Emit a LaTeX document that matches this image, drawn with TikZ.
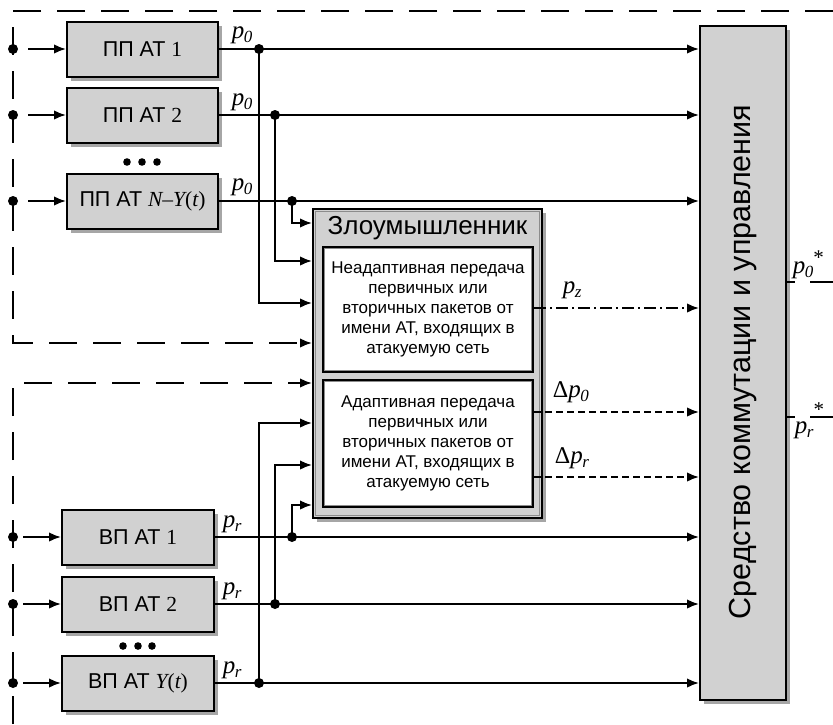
\documentclass[tikz,border=0pt]{standalone}
\usepackage{fontspec}
\setmainfont{Liberation Sans}
\newfontfamily\tms{Liberation Serif}
\usetikzlibrary{arrows.meta,shadows}
\newcommand{\plab}[1]{{\fontsize{25}{25}\selectfont\tms\itshape p\kern-0.5pt\raisebox{-0.35ex}{\fontsize{17}{17}\selectfont #1}}}
\newcommand{\sfs}{\fontsize{21.5}{24}\selectfont}
\begin{document}
\begin{tikzpicture}[x=1pt,y=-1pt,
  line width=1.9pt,
  sh/.style={drop shadow={shadow xshift=4pt, shadow yshift=-4pt, fill=black!35, opacity=1}},
  box/.style={draw=black, line width=2pt, fill=black!18, inner sep=0pt, minimum width=151pt, minimum height=55pt, font=\sfs, sh},
  arr/.style={-{Latex[length=12pt,width=9.5pt]}},
  jdot/.style={circle, fill=black, draw=none, inner sep=0pt, minimum size=10pt},
  fr/.style={dash pattern=on 28pt off 16pt, line width=2pt},
  lab/.style={anchor=south west, inner sep=0pt},
  inbox/.style={draw=black, line width=2pt, fill=white, minimum width=210pt, align=center, font=\fontsize{17}{20}\selectfont, inner sep=0pt}
]
\useasboundingbox (0,0) rectangle (833,724);

% upper PP boxes
\node[box] (pp1) at (142.5,49) {ПП АТ {\tms 1}};
\node[box] (pp2) at (142.5,115) {ПП АТ {\tms 2}};
\node[box] (pp3) at (142.5,201) {ПП АТ {\tms\itshape N}{\tms –}{\tms\itshape Y}{\tms(\itshape t\upshape)}};
\foreach \x in {127,142,157} \fill (\x,162) circle (3.8pt);

% lower VP boxes
\node[box, minimum width=152pt] (vp1) at (138,537) {ВП АТ {\tms 1}};
\node[box, minimum width=152pt] (vp2) at (138,604) {ВП АТ {\tms 2}};
\node[box, minimum width=152pt] (vp3) at (138,683) {ВП АТ {\tms\itshape Y}{\tms(\itshape t\upshape)}};
\foreach \x in {123,138,152} \fill (\x,646) circle (3.8pt);

% big switching box
\node[draw=black, line width=2pt, fill=black!18, minimum width=86pt, minimum height=674pt, inner sep=0pt, sh] (big) at (743,363) {};
\node[rotate=90, font=\fontsize{30.5}{30}\selectfont] (bigt) at (743,362) {Средство коммутации и управления};

% attacker
\node[draw=black, line width=2pt, fill=black!18, minimum width=229pt, minimum height=309pt, inner sep=0pt, sh] (att) at (427.5,363.5) {};
\draw[black!45, line width=0.8pt] ([shift={(3.2,3.2)}]att.north west) rectangle ([shift={(-3.2,-3.2)}]att.south east);
\node[font=\fontsize{26}{26}\selectfont] (attt) at (427.5,228) {Злоумышленник};
\node[inbox, minimum height=125pt] (in1) at (428,309.5) {Неадаптивная передача\\первичных или\\вторичных пакетов от\\имени АТ, входящих в\\атакуемую сеть};
\node[inbox, minimum height=127pt] (in2) at (428,443.5) {Адаптивная передача\\первичных или\\вторичных пакетов от\\имени АТ, входящих в\\атакуемую сеть};
\draw[black!45, line width=0.8pt] ([shift={(2.6,2.6)}]in1.north west) rectangle ([shift={(-2.6,-2.6)}]in1.south east);
\draw[black!45, line width=0.8pt] ([shift={(2.6,2.6)}]in2.north west) rectangle ([shift={(-2.6,-2.6)}]in2.south east);

% dashed frames
\draw[fr, arr] (833,11) -- (13,11) -- (13,343) -- (att.west |- 0,343);
\draw[fr, arr] (13,724) -- (13,383) -- (att.west |- 0,383);

% inputs
\node[jdot] (i1) at (13,49) {};
\node[jdot] (i2) at (13,115) {};
\node[jdot] (i3) at (13,201) {};
\node[jdot] (i4) at (13,537) {};
\node[jdot] (i5) at (13,604) {};
\node[jdot] (i6) at (13,683) {};
\draw[arr] ([xshift=15pt]i1.center) -- (pp1.west);
\draw[arr] ([xshift=15pt]i2.center) -- (pp2.west);
\draw[arr] ([xshift=15pt]i3.center) -- (pp3.west);
\draw[arr] ([xshift=10pt]i4.center) -- (vp1.west);
\draw[arr] ([xshift=10pt]i5.center) -- (vp2.west);
\draw[arr] ([xshift=10pt]i6.center) -- (vp3.west);

% outputs to big box
\draw[arr] (pp1.east) -- (pp1.east -| big.west);
\draw[arr] (pp2.east) -- (pp2.east -| big.west);
\draw[arr] (pp3.east) -- (pp3.east -| big.west);
\draw[arr] (vp1.east) -- (vp1.east -| big.west);
\draw[arr] (vp2.east) -- (vp2.east -| big.west);
\draw[arr] (vp3.east) -- (vp3.east -| big.west);

% junctions
\node[jdot] (j1) at (259,49) {};
\node[jdot] (j2) at (275,115) {};
\node[jdot] (j3) at (292,201) {};
\node[jdot] (k1) at (292,537) {};
\node[jdot] (k2) at (275,604) {};
\node[jdot] (k3) at (259,683) {};
\draw[arr] (j3.center) |- (att.west |- 0,223);
\draw[arr] (j2.center) |- (att.west |- 0,261);
\draw[arr] (j1.center) |- (att.west |- 0,303);
\draw[arr] (k3.center) |- (att.west |- 0,423);
\draw[arr] (k2.center) |- (att.west |- 0,465);
\draw[arr] (k1.center) |- (att.west |- 0,505);

% attacker outputs
\draw[arr, dash pattern=on 12pt off 4pt on 2pt off 4pt] (in1.east |- 0,308) -- (big.west |- 0,308);
\draw[arr, dash pattern=on 7pt off 4pt] (in2.east |- 0,412) -- (big.west |- 0,412);
\draw[arr, dash pattern=on 7pt off 4pt] (in2.east |- 0,477) -- (big.west |- 0,477);

% big box outputs
\coordinate (o1) at (833,282);
\coordinate (o2) at (833,417);
\draw (big.east |- o1) -- ++(8,0);
\draw (810,282) -- (o1);
\draw (big.east |- o2) -- ++(8,0);
\draw (810,417) -- (o2);

% labels
\node[lab] (l1) at (231,45) {\plab{0}};
\node[lab] (l2) at (231,112) {\plab{0}};
\node[lab] (l3) at (231,197) {\plab{0}};
\node[lab] (l4) at (222,534) {\plab{r}};
\node[lab] (l5) at (222,601) {\plab{r}};
\node[lab] (l6) at (222,680) {\plab{r}};
\node[lab] (lz) at (562,300) {\plab{z}};
\node[lab] (ld0) at (552,404) {{\fontsize{24}{24}\selectfont\tms Δ}\plab{0}};
\node[lab] (ldr) at (554,470) {{\fontsize{24}{24}\selectfont\tms Δ}\plab{r}};
\node[lab] (lo1) at (792,280) {\plab{0}{\fontsize{21}{21}\selectfont\tms\raisebox{1.0ex}{*}}};
\node[lab] (lo2) at (794,440) {\plab{r}{\fontsize{21}{21}\selectfont\tms\raisebox{1.8ex}{*}}};
\end{tikzpicture}
\end{document}
